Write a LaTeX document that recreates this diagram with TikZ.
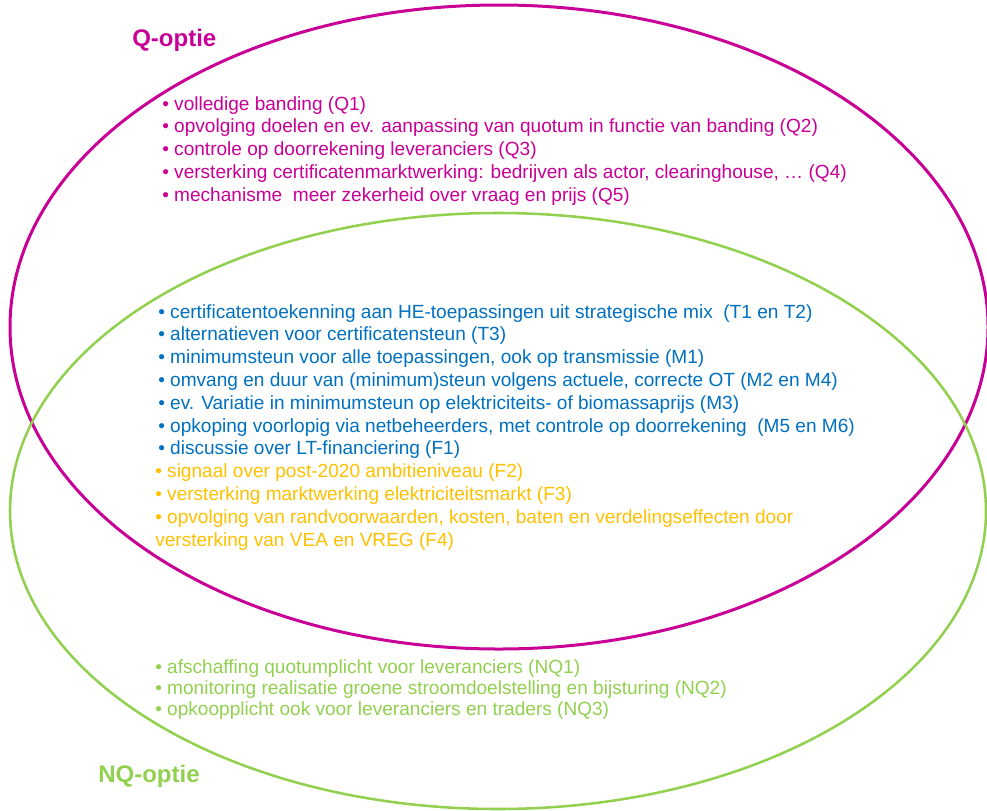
\documentclass[tikz,border=0pt]{standalone}
\usepackage{fontspec}
\setmainfont{Liberation Sans}
\usepackage{tikz}
\usetikzlibrary{shapes.geometric}

\definecolor{qmagenta}{RGB}{200,0,150}
\definecolor{nqgreen}{RGB}{146,208,80}
\definecolor{tblue}{RGB}{0,112,192}
\definecolor{forange}{RGB}{255,192,0}

\begin{document}
\begin{tikzpicture}[
		x=0.75 pt,
		y=-0.75 pt
		]
		% Define the distance between the lines of a list.
			\def\linesep{22.8}
		\tikzstyle{option ring}=[
			ellipse,
			draw,
			inner sep=0 pt
		]
		\tikzstyle{q ring}=[
			option ring,
			color=qmagenta,
			line width=2.25 pt,
			minimum width=733.5 pt,
			minimum height=483 pt
		]
		\tikzstyle{nq ring}=[
			option ring,
			color=nqgreen,
			line width=1.9 pt,
			minimum width=732 pt,
			minimum height=447 pt
		]
		\tikzstyle{item}=[
			anchor=base west,
			align=left,
			inner sep=0 pt,
			font=\fontsize{14.3}{17.1}\selectfont
		]
		\tikzstyle{q item}=[item, color=qmagenta]
		\tikzstyle{t item}=[item, color=tblue]
		\tikzstyle{f item}=[item, color=forange]
		\tikzstyle{nq item}=[item, color=nqgreen]
		\tikzstyle{option title}=[
			anchor=base west,
			inner sep=0 pt,
			font=\fontsize{18}{20}\selectfont\bfseries
		]
		\useasboundingbox (0,0) rectangle (987,810);
		% Draw the two option rings.
			\node[q ring] (Q) at (499,327) {};
			\node[nq ring] (NQ) at (498,511) {};
		% Draw the titles.
			\node[option title, color=qmagenta] (Q-title) at (132,46) {Q-optie};
			\node[option title, color=nqgreen] (NQ-title) at (98,782) {NQ-optie};
		% Draw the items of the Q-option.
			\foreach \txt [count=\i] in {
				{volledige banding (Q1)},
				{opvolging doelen en ev. aanpassing van quotum in functie van banding (Q2)},
				{controle op doorrekening leveranciers (Q3)},
				{versterking certificatenmarktwerking: bedrijven als actor, clearinghouse, … (Q4)},
				{mechanisme\ \ meer zekerheid over vraag en prijs (Q5)}}
			\node[q item] (Q-\i) at (162,{110+(\i-1)*\linesep}) {• \txt};
		% Draw the common items.
			\foreach \txt [count=\i] in {
				{certificatentoekenning aan HE-toepassingen uit strategische mix\ \ (T1 en T2)},
				{alternatieven voor certificatensteun (T3)},
				{minimumsteun voor alle toepassingen, ook op transmissie (M1)},
				{omvang en duur van (minimum)steun volgens actuele, correcte OT (M2 en M4)},
				{ev. Variatie in minimumsteun op elektriciteits- of biomassaprijs (M3)},
				{opkoping voorlopig via netbeheerders, met controle op doorrekening\ \ (M5 en M6)},
				{discussie over LT-financiering (F1)}}
			\node[t item] (T-\i) at (158,{318+(\i-1)*\linesep}) {• \txt};
			\foreach \txt [count=\i from 2] in {
				{signaal over post-2020 ambitieniveau (F2)},
				{versterking marktwerking elektriciteitsmarkt (F3)}}
			\node[f item] (F-\i) at (155,{318+(\i+5)*\linesep}) {• \txt};
		% The last item has two lines: its base is that of the second one.
			\node[f item] (F-4) at (155,{318+10*\linesep}) {• opvolging van randvoorwaarden, kosten, baten en verdelingseffecten door\\versterking van VEA en VREG (F4)};
		% Draw the items of the NQ-option.
			\foreach \txt [count=\i] in {
				{afschaffing quotumplicht voor leveranciers (NQ1)},
				{monitoring realisatie groene stroomdoelstelling en bijsturing (NQ2)},
				{opkoopplicht ook voor leveranciers en traders (NQ3)}}
			\node[nq item] (NQ-\i) at (155,{673+(\i-1)*21}) {• \txt};
	\end{tikzpicture}
\end{document}
